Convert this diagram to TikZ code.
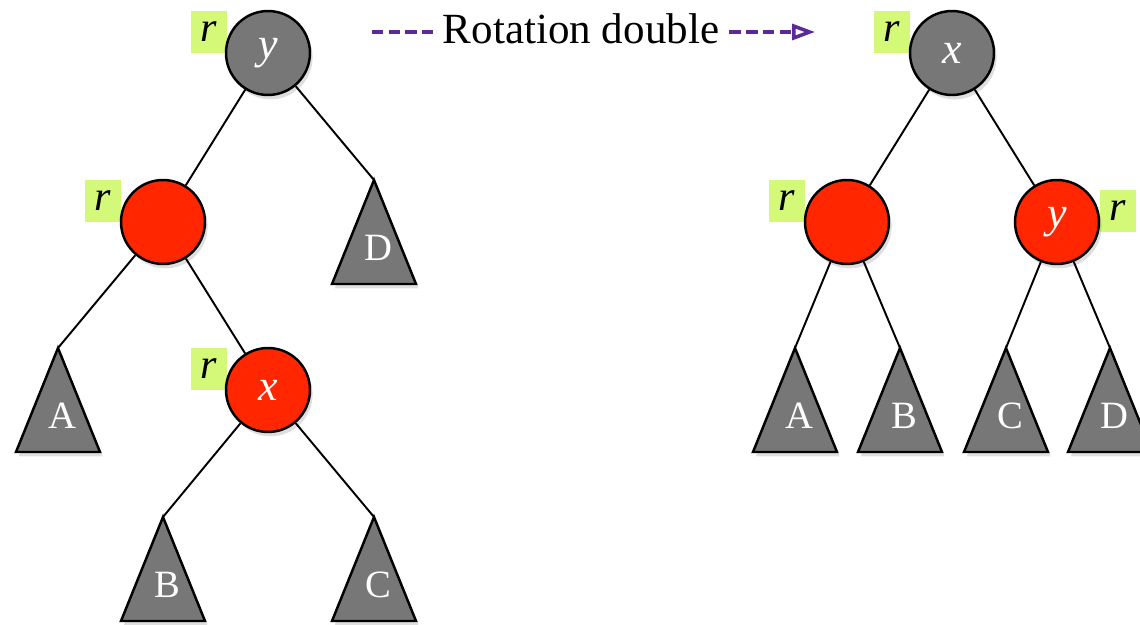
\documentclass[tikz,border=0pt]{standalone}
\usepackage{fontspec}
\setmainfont{Liberation Serif}
\usetikzlibrary{arrows.meta,shadows}

\definecolor{nodegray}{HTML}{777777}
\definecolor{nodered}{HTML}{FF2600}
\definecolor{tagfill}{HTML}{D4F878}
\definecolor{rotpurple}{HTML}{5B2A96}

\tikzset{
  softshadow/.style={drop shadow={opacity=0.25,shadow xshift=1.5pt,shadow yshift=-2.5pt}},
  blacknode/.style={circle,draw,line width=1.4pt,fill=nodegray,minimum size=1.68cm,
    inner sep=0pt,text=white,font=\fontsize{25}{25}\selectfont\itshape,softshadow},
  rednode/.style={blacknode,fill=nodered},
  tag/.style={fill=tagfill,minimum width=0.72cm,minimum height=0.84cm,inner sep=0pt,
    font=\fontsize{24}{24}\selectfont\itshape},
  tree/.style={draw,line width=1.4pt,fill=nodegray,line join=miter,softshadow},
  treelabel/.style={text=white,inner sep=0pt,font=\fontsize{22}{22}\selectfont},
  link/.style={line width=1.1pt},
  rotline/.style={draw=rotpurple,line width=2.2pt,dash pattern=on 6.5pt off 3pt}
}

% subtree: name, x and y of the apex, letter
\newcommand{\drawsubtree}[4]{%
  \coordinate (#1) at (#2,#3);
  \draw[tree] (#1) -- ++(42,104) -- ++(-84,0) -- cycle;
  \node[treelabel] (#1l) at (#2+4,#3+68) {#4};
}

\begin{document}
\begin{tikzpicture}[x=0.02cm,y=-0.02cm]
  \useasboundingbox (0,0) rectangle (1140,625);

  % title
  \node[font=\fontsize{24.5}{24.5}\selectfont,inner sep=0.2cm] (title) at (581,29) {Rotation double};
  \coordinate (rotstart) at (372,32);
  \coordinate (rotend) at (815,32);
  \draw[rotline] (rotstart) -- (rotstart -| title.west);
  \draw[rotline,-{Triangle[open,length=13pt,width=9pt,line width=2pt]}]
    (rotstart -| title.east) -- (rotend);

  % left tree
  \node[tag] (ltagy) at (209,32) {r};
  \node[tag] (ltagz) at (103,201) {r};
  \node[tag] (ltagx) at (209,369) {r};
  \node[blacknode] (ly) at (268,53) {y};
  \node[rednode] (lz) at (163,222) {};
  \node[rednode] (lx) at (268,390) {x};
  \drawsubtree{lD}{374}{180}{D}
  \drawsubtree{lA}{58}{348}{A}
  \drawsubtree{lB}{163}{517}{B}
  \drawsubtree{lC}{374}{517}{C}
  \draw[link] (ly) -- (lz);
  \draw[link] (ly) -- (lD);
  \draw[link] (lz) -- (lA);
  \draw[link] (lz) -- (lx);
  \draw[link] (lx) -- (lB);
  \draw[link] (lx) -- (lC);

  % right tree
  \node[tag] (rtagx) at (892,32) {r};
  \node[tag] (rtagz) at (787,201) {r};
  \node[tag] (rtagy) at (1118,211) {r};
  \node[blacknode] (rx) at (952,53) {x};
  \node[rednode] (rz) at (847,222) {};
  \node[rednode] (ry) at (1057,222) {y};
  \drawsubtree{rA}{795}{348}{A}
  \drawsubtree{rB}{900}{348}{B}
  \drawsubtree{rC}{1006}{348}{C}
  \drawsubtree{rD}{1110}{348}{D}
  \draw[link] (rx) -- (rz);
  \draw[link] (rx) -- (ry);
  \draw[link] (rz) -- (rA);
  \draw[link] (rz) -- (rB);
  \draw[link] (ry) -- (rC);
  \draw[link] (ry) -- (rD);
\end{tikzpicture}
\end{document}
